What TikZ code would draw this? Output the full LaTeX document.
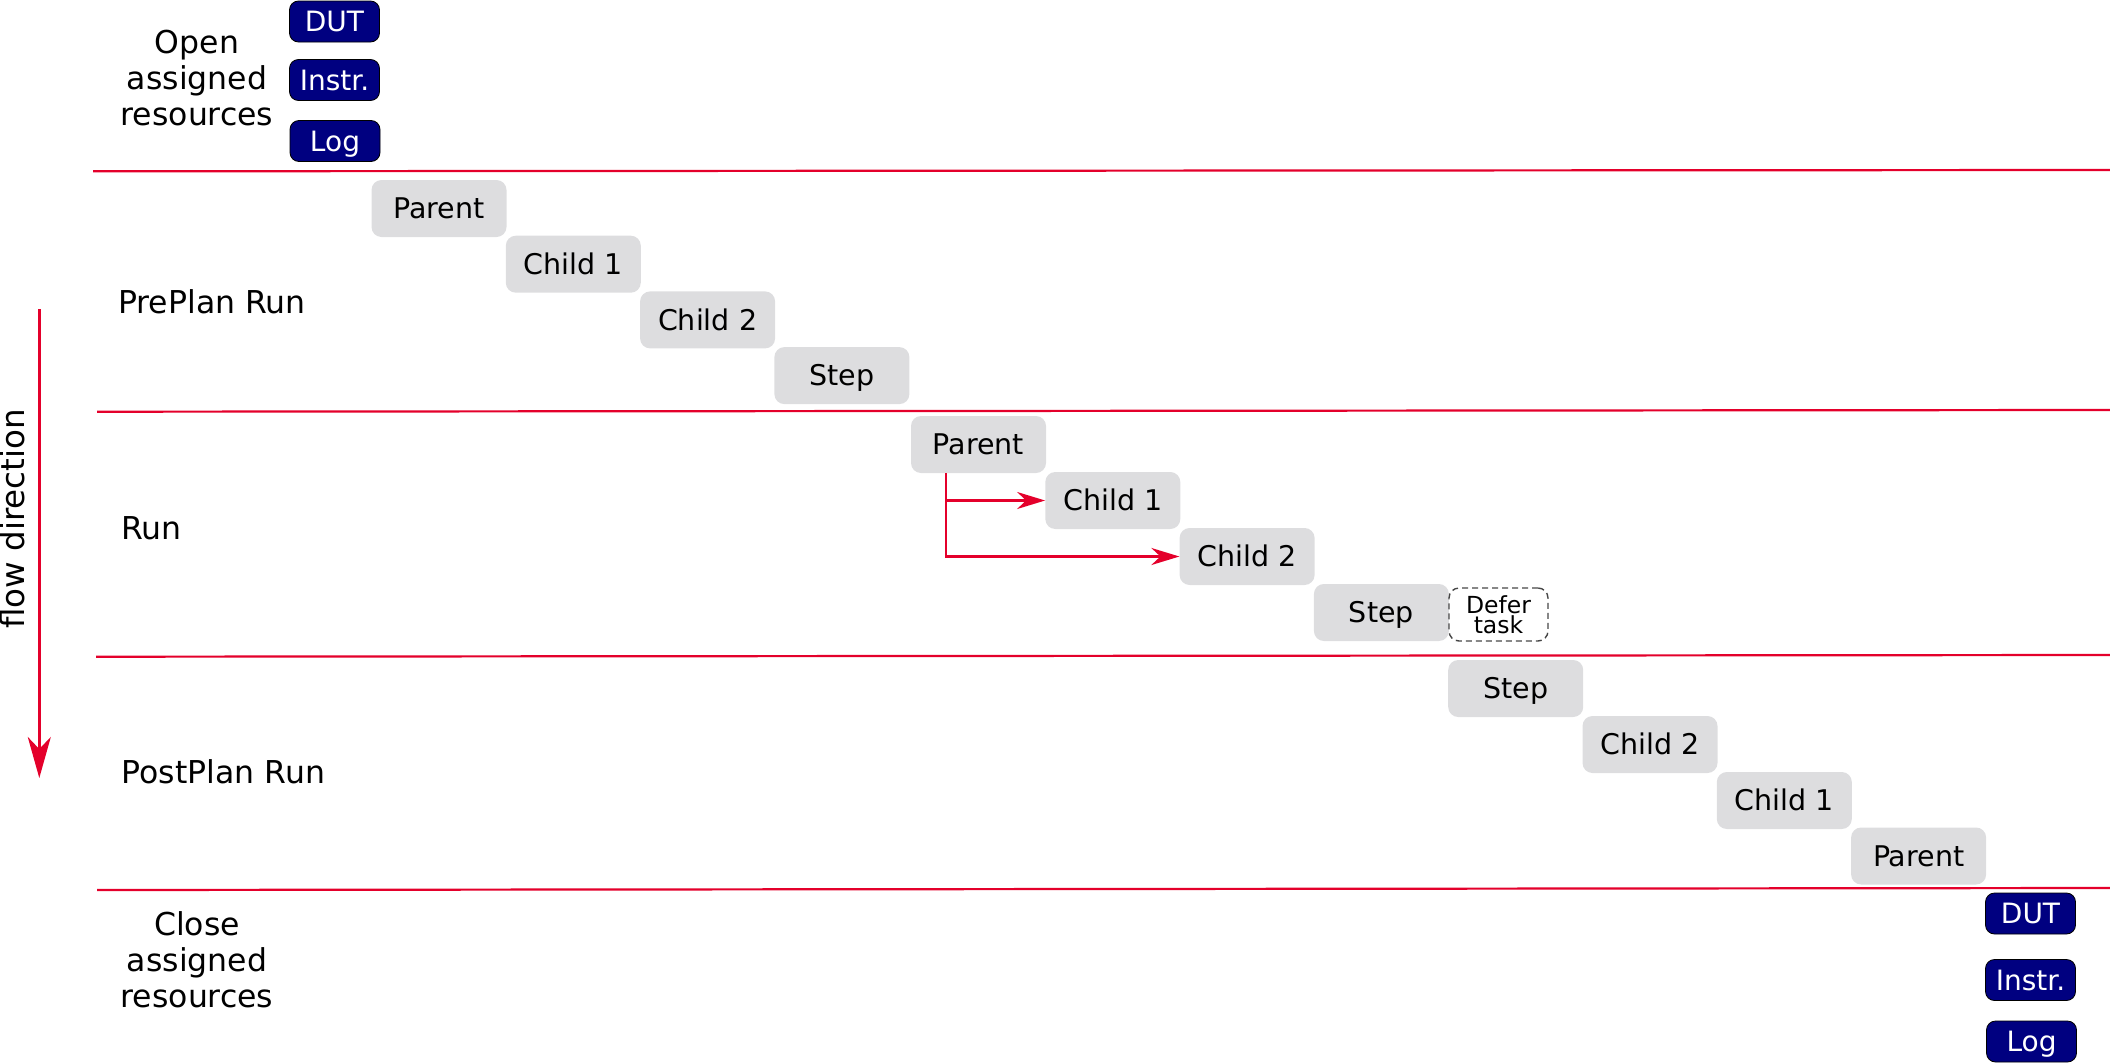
\documentclass[tikz,border=0pt]{standalone}
\usepackage{fontspec}
\setmainfont{DejaVu Sans}
\usetikzlibrary{arrows.meta}
\definecolor{sepred}{RGB}{228,0,43}
\definecolor{boxgray}{RGB}{221,221,223}
\definecolor{resnavy}{RGB}{0,0,128}
\begin{document}
\begin{tikzpicture}[x=1pt,y=-1pt,
  gbox/.style={fill=boxgray, rounded corners=10pt, minimum width=135pt, minimum height=57pt,
    inner sep=0pt, text height=20.5pt, text depth=0pt, font=\fontsize{28.5}{30}\selectfont},
  rbox/.style={fill=resnavy, draw=black, line width=0.8pt, rounded corners=9pt,
    minimum width=90pt, minimum height=41pt, inner sep=0pt, text=white,
    text height=20.5pt, text depth=0pt, font=\fontsize{28}{30}\selectfont},
  deferbox/.style={draw={rgb,255:red,70;green,70;blue,70}, dashed, dash pattern=on 6pt off 4pt,
    line width=1.4pt, rounded corners=10pt, minimum width=99pt, minimum height=53pt,
    inner sep=0pt, align=center, font=\fontsize{23.5}{20.5}\selectfont},
  lbl/.style={inner sep=0pt, font=\fontsize{31.5}{36}\selectfont},
  sepline/.style={draw=sepred, line width=2.2pt},
  redarrow/.style={draw=sepred, line width=2.5pt, -{Stealth[length=28pt,width=17pt,inset=9pt]}},
  flowarrow/.style={draw=sepred, line width=2.5pt, -{Stealth[length=41pt,width=23pt,inset=12pt]}},
]
\useasboundingbox (0,0) rectangle (2110,1063);

% separators
\coordinate (s1a) at (93,171.3);  \coordinate (s1b) at (2110,170);
\coordinate (s2a) at (97,411.7);  \coordinate (s2b) at (2110,410);
\coordinate (s3a) at (96,656.7);  \coordinate (s3b) at (2110,655);
\coordinate (s4a) at (97,890);    \coordinate (s4b) at (2110,888);
\draw[sepline] (s1a) -- (s1b);
\draw[sepline] (s2a) -- (s2b);
\draw[sepline] (s3a) -- (s3b);
\draw[sepline] (s4a) -- (s4b);

% flow direction
\coordinate (fa) at (39.3,309);
\coordinate (fb) at (39.3,778);
\draw[flowarrow] (fa) -- (fb);
\node[lbl, rotate=90, font=\fontsize{32.5}{36}\selectfont] (flow) at (12.5,519) {flow direction};

% section labels
\node[lbl, align=center] (openlbl) at (197,78.5) {Open\\assigned\\resources};
\node[lbl, anchor=base west] (prelbl) at (118,313) {PrePlan Run};
\node[lbl, anchor=base west] (runlbl) at (121,539) {Run};
\node[lbl, anchor=base west] (postlbl) at (121.5,783) {PostPlan Run};
\node[lbl, align=center] (closelbl) at (197,959.5) {Close\\assigned\\resources};

% open resources
\node[rbox] (odut) at (334.5,21.5) {DUT};
\node[rbox] (oins) at (334.5,80) {Instr.};
\node[rbox] (olog) at (335,141) {Log};

% preplan
\node[gbox] (pp)  at (439,208.5)   {Parent};
\node[gbox] (pc1) at (573.3,264.2) {Child 1};
\node[gbox] (pc2) at (707.6,319.9) {Child 2};
\node[gbox] (ps)  at (841.9,375.6) {Step};

% run
\node[gbox] (rp)  at (978.5,444.5)  {Parent};
\node[gbox] (rc1) at (1112.8,500.5) {Child 1};
\node[gbox] (rc2) at (1247.1,556.5) {Child 2};
\node[gbox] (rs)  at (1381.4,612.5) {Step};
\node[deferbox] (defer) at (1498.5,614.5) {Defer\\task};

\draw[redarrow] ([xshift=-32.5pt]rp.south) |- (rc1.west);
\draw[redarrow] ([xshift=-32.5pt]rp.south) |- (rc2.west);

% postplan
\node[gbox] (qs)  at (1515.7,688.5) {Step};
\node[gbox] (qc2) at (1650,744.5)   {Child 2};
\node[gbox] (qc1) at (1784.3,800.5) {Child 1};
\node[gbox] (qp)  at (1918.6,856)   {Parent};

% close resources
\node[rbox] (cdut) at (2030.5,913.5) {DUT};
\node[rbox] (cins) at (2030.5,980)   {Instr.};
\node[rbox] (clog) at (2031.5,1041.5) {Log};
\end{tikzpicture}
\end{document}
